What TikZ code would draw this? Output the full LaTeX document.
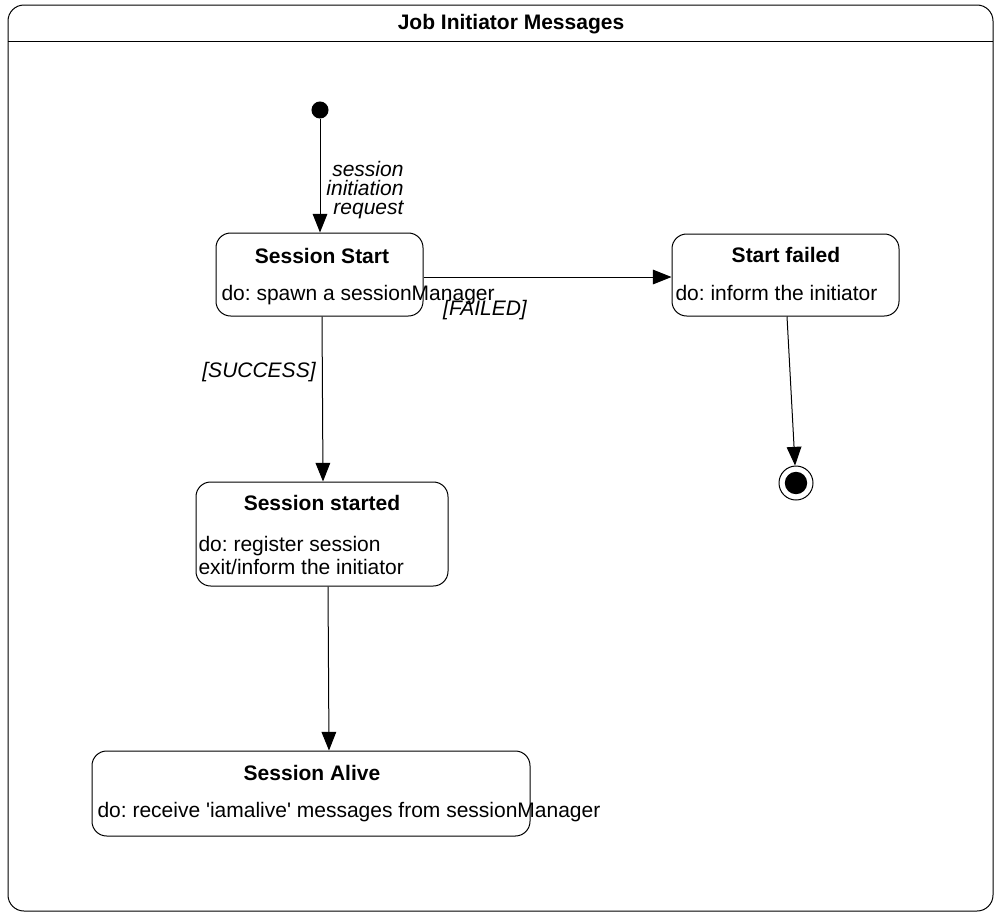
\documentclass[tikz,border=0pt]{standalone}
\usepackage{fontspec}
\setmainfont{Liberation Sans}
\usetikzlibrary{arrows.meta}
\begin{document}
\frenchspacing
\begin{tikzpicture}[x=0.75pt, y=-0.75pt, line width=0.75pt,
    font=\fontsize{15.75}{17.25}\selectfont,
    state/.style = {draw, rounded corners=11pt, inner sep=0pt},
    title/.style = {font=\fontsize{15.75}{17.25}\selectfont\bfseries, inner sep=0pt},
    act/.style = {anchor=west, inner sep=0pt, align=left},
    guard/.style = {font=\fontsize{15.75}{14}\selectfont\itshape, inner sep=0pt},
    trans/.style = {-{Triangle[length=14pt, width=11pt]}}]
    \useasboundingbox (0,0) rectangle (995,914);
    \draw[rounded corners=12pt] (8,5) rectangle (993,911);
    \draw (8,41) -- (993,41);
    \node[title] (head) at (511,24) {Job Initiator Messages};
    \node[draw, fill, circle, minimum size=12pt, inner sep=0pt] (init) at (320,110) {};
    \node[state, minimum width=155.25pt, minimum height=62.25pt] (ss) at (319.5,274.5) {};
    \node[title] (ssT) at (322,256) {Session Start};
    \node[act] (ssA) at (221,295) {do: spawn a sessionManager};
    \node[state, minimum width=170.25pt, minimum height=61.5pt] (sf) at (785.5,275) {};
    \node[title] (sfT) at (786,255) {Start failed};
    \node[act] (sfA) at (675,293) {do: inform the initiator};
    \node[state, minimum width=189pt, minimum height=78pt] (sd) at (322,534) {};
    \node[title] (sdT) at (322,503) {Session started};
    \node[act] (sdA) at (198,555) {do: register session\\exit/inform the initiator};
    \node[state, minimum width=328.5pt, minimum height=63.75pt] (sa) at (311,793.5) {};
    \node[title] (saT) at (312,773) {Session Alive};
    \node[act] (saA) at (97,812) {do: receive \textquotesingle iamalive\textquotesingle{} messages from sessionManager};
    \node[draw, circle, minimum size=25.5pt, inner sep=0pt] (fin) at (796,483) {};
    \node[draw, fill, circle, minimum size=16pt, inner sep=0pt] (finIn) at (fin) {};
    \draw[trans] (init) -- (init |- ss.north);
    \node[guard, anchor=east, align=right] (lbl1) at (404,190) {session\\initiation\\request};
    \draw[trans] (ss.east |- 0,277) -- (sf.west |- 0,277);
    \node[guard] (lbl2) at (485,310) {[FAILED]};
    \draw[trans] (ss.south -| 322,0) -- (sd.north -| 323,0);
    \node[guard] (lbl3) at (259,372) {[SUCCESS]};
    \draw[trans] (sd.south -| 328,0) -- (sa.north -| 329,0);
    \draw[trans] (sf.south -| 787,0) -- (fin);
\end{tikzpicture}
\end{document}
